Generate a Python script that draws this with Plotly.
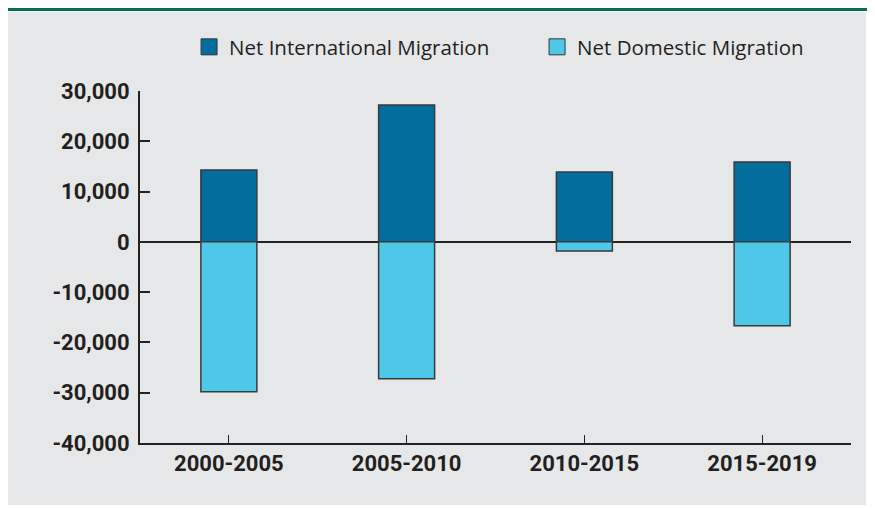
import plotly.graph_objects as go

# ─────────────────────────────────────────────────────────────
# Data
# ─────────────────────────────────────────────────────────────
PERIODS = ["2000-2005", "2005-2010", "2010-2015", "2015-2019"]
NET_INTERNATIONAL = [14300, 27200, 13900, 15900]
NET_DOMESTIC = [-29800, -27200, -1800, -16700]
SERIES_NAMES = ["Net International Migration", "Net Domestic Migration"]

Y_TICKS = [30000, 20000, 10000, 0, -10000, -20000, -30000, -40000]
Y_TICK_LABELS = ["30,000", "20,000", "10,000", "0", "-10,000", "-20,000", "-30,000", "-40,000"]

INTL_COLOR = "#036E9E"
DOM_COLOR = "#4EC8E8"
PANEL = "#E6E7E9"
INK = "#231F20"

fig = go.Figure()

for name, vals, color in zip(SERIES_NAMES, [NET_INTERNATIONAL, NET_DOMESTIC], [INTL_COLOR, DOM_COLOR]):
    fig.add_trace(go.Bar(
        x=PERIODS, y=vals, name=name, showlegend=False,
        marker=dict(color=color, line=dict(color="#3a3a3a", width=1.5)),
        width=0.315,
    ))

# bigger square legend keys (bar keys are tiny)
for name, color in zip(SERIES_NAMES, [INTL_COLOR, DOM_COLOR]):
    fig.add_trace(go.Scatter(
        x=[None], y=[None], mode="markers", name=name,
        marker=dict(symbol="square", size=16, color=color, line=dict(color="#333333", width=1)),
    ))

# grey panel + green rule on top
fig.add_shape(type="rect", xref="paper", yref="paper", layer="below",
              x0=-0.1857, x1=1.0211, y0=-0.176, y1=1.2244,
              fillcolor=PANEL, line=dict(width=0))
fig.add_shape(type="line", xref="paper", yref="paper",
              x0=-0.19, x1=1.04, y0=1.2315, y1=1.2315,
              line=dict(color="#0A6B55", width=3))

tick_font = dict(size=22, family="Roboto, Arial, sans-serif", color=INK, weight="bold")

# page body adds an 8px offset, so the figure is a little smaller than the window
fig.update_layout(
    width=867, height=500,
    barmode="relative",
    paper_bgcolor="#FFFFFF",
    plot_bgcolor="rgba(0,0,0,0)",
    margin=dict(l=132, r=24, t=83, b=65, autoexpand=False),
    font=dict(family="Open Sans, Arial, sans-serif", color=INK),
    showlegend=True,
    legend=dict(
        orientation="h", xanchor="left", x=0.069, yanchor="middle", y=1.125,
        font=dict(size=20.5, color=INK), bgcolor="rgba(0,0,0,0)",
        traceorder="normal", entrywidth=303, entrywidthmode="pixels",
        itemsizing="trace",
    ),
    xaxis=dict(
        showline=True, linecolor="#222222", linewidth=2,
        ticks="inside", ticklen=8, tickwidth=1, tickcolor="#222222",
        tickfont=tick_font, showgrid=False,
    ),
    yaxis=dict(
        range=[-40000, 30000], tickvals=Y_TICKS, ticktext=Y_TICK_LABELS,
        showline=True, linecolor="#222222", linewidth=2,
        ticks="inside", ticklen=10, tickwidth=2, tickcolor="#222222",
        tickfont=tick_font, showgrid=False,
        zeroline=True, zerolinecolor="#222222", zerolinewidth=1.5,
        ticklabelstandoff=4,
    ),
)

fig.write_html("out.html")
